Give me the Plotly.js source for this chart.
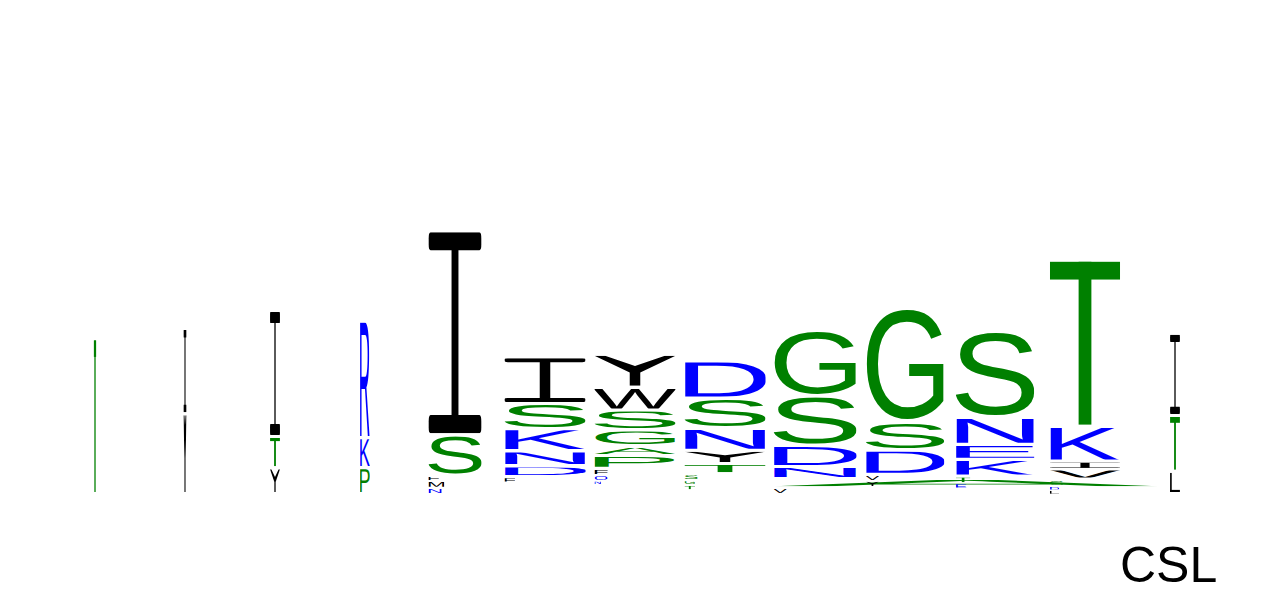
<!DOCTYPE html>
<html>
<head>
<meta charset="utf-8">
<script src="https://cdn.plot.ly/plotly-3.0.1.min.js"></script>
<style>
  html, body { margin: 0; padding: 0; background: #fff; }
  #logo { width: 1267px; height: 600px; }
</style>
</head>
<body>
<div id="logo"></div>
<script>
/***** sequence logo data *****/
var positions = [1, 2, 3, 4, 5, 6, 7, 8, 9, 10, 11, 12, 13];
var colWidths = [0.03, 0.035, 0.11, 0.11, 0.59, 0.9, 0.9, 0.9, 0.92, 0.87, 0.87, 0.78, 0.11];
// unseen part at the bottom of each stack (bits)
var floors = [0, 0, 0, 0, 0, 0.20, 0.17, 0.07, 0, 0.12, 0.10, 0, 0];
// letters listed bottom to top
var stackLetters = [
  ['T'],
  ['Y', 'I'],
  ['Y', 'T', 'I'],
  ['P', 'K', 'R'],
  ['N', 'M', 'F', 'S', 'I'],
  ['F', 'D', 'N', 'K', 'S', 'I'],
  ['N', 'Q', 'F', 'P', 'A', 'G', 'S', 'W', 'Y'],
  ['T', 'G', 'S', 'T', 'Y', 'N', 'S', 'D'],
  ['V', 'A', 'N', 'D', 'S', 'G'],
  ['Y', 'V', 'D', 'S', 'G'],
  ['E', 'T', 'K', 'E', 'N', 'S'],
  ['L', 'D', 'G', 'V', 'I', 'K', 'T'],
  ['L', 'T', 'I']
];
var stackHeights = [
  [2.58],
  [1.33, 1.42],
  [0.43, 0.52, 2.10],
  [0.43, 0.50, 1.95],
  [0.10, 0.12, 0.08, 0.68, 3.40],
  [0.08, 0.18, 0.25, 0.37, 0.42, 0.78],
  [0.05, 0.10, 0.10, 0.22, 0.15, 0.27, 0.33, 0.38, 0.55],
  [0.08, 0.08, 0.10, 0.17, 0.22, 0.37, 0.50, 0.62],
  [0.10, 0.15, 0.20, 0.35, 0.83, 1.10],
  [0.10, 0.10, 0.40, 0.48, 1.90],
  [0.08, 0.11, 0.28, 0.25, 0.45, 1.43],
  [0.07, 0.07, 0.10, 0.17, 0.13, 0.58, 2.77],
  [0.37, 0.93, 1.37]
];
// one flattened glyph in column 9 runs far to the right
var wideGlyph = {column: 9, letter: 'A', width: 4.28};
var caption = 'CSL';

/***** colours and glyph metrics *****/
var green = '#008000', blue = '#0000ff', black = '#000000';
var letterColor = {
  S: green, T: green, G: green, P: green, A: green, C: green,
  K: blue, R: blue, D: blue, N: blue, E: blue, Q: blue, H: blue,
  I: black, V: black, L: black, M: black, F: black, W: black, Y: black
};
// left / right side bearing as share of advance (Arial-like)
var bearings = {
  A: [0, 0], C: [0.068, 0.047], D: [0.107, 0.075], E: [0.118, 0.08], F: [0.137, 0.08],
  G: [0.054, 0.086], K: [0.113, 0.003], M: [0.089, 0.092],
  N: [0.105, 0.106], P: [0.12, 0.065], Q: [0.048, 0.048], R: [0.11, 0.03],
  S: [0.069, 0.07], V: [0.006, 0.008], W: [0.011, 0.012]
};
// plain block letters drawn as outlines in a 100 x 100 box;
// s = stem width (wider for hair-thin columns so they stay visible)
var blockGlyphs = {
  I: function (c, s) {
    return '<rect x="0" y="0" width="100" height="9" rx="4" ry="3" fill="' + c + '"/>' +
      '<rect x="' + (50 - s / 2) + '" y="4" width="' + s + '" height="92" fill="' + c + '"/>' +
      '<rect x="0" y="91" width="100" height="9" rx="4" ry="3" fill="' + c + '"/>';
  },
  T: function (c, s) {
    return '<rect x="0" y="0" width="100" height="11" fill="' + c + '"/>' +
      '<rect x="' + (50 - s * 0.7) + '" y="0" width="' + (s * 1.4) + '" height="100" fill="' + c + '"/>';
  },
  Y: function (c, s) {
    var a = s, m = 50 - s / 2, n = 50 + s / 2;
    return '<polygon points="0,0 ' + a + ',0 50,' + (47 - s) + ' ' + (100 - a) + ',0 100,0 ' +
      n + ',56 ' + n + ',100 ' + m + ',100 ' + m + ',56" fill="' + c + '"/>';
  },
  L: function (c, s) {
    return '<rect x="0" y="0" width="' + (s * 1.3) + '" height="100" fill="' + c + '"/>' +
      '<rect x="0" y="89" width="100" height="11" fill="' + c + '"/>';
  }
};

function svgUri(viewBox, body) {
  return 'data:image/svg+xml;charset=utf-8,' + encodeURIComponent(
    '<svg xmlns="http://www.w3.org/2000/svg" width="100" height="100" viewBox="' + viewBox +
    '" preserveAspectRatio="none">' + body + '</svg>');
}

var glyphCache = {};
function glyph(letter, hair) {
  var key = letter + (hair ? '-hair' : '');
  if (glyphCache[key]) return glyphCache[key];
  var color = letterColor[letter];
  var uri;
  if (blockGlyphs[letter]) {
    uri = svgUri('0 0 100 100', blockGlyphs[letter](color, hair ? 34 : 13));
  } else {
    var b = bearings[letter];
    var round = 'CGOQS'.indexOf(letter) >= 0;
    var top = round ? 70.3 : 68.8;
    var below = letter === 'Q' ? 6 : (round ? 1.5 : 0);
    var len = 100 / (1 - b[0] - b[1]);
    uri = svgUri('0 ' + (-top) + ' 100 ' + (top + below),
      '<g opacity="0.999"><text x="' + (-b[0] * len) + '" y="0" ' +
      'font-family="Liberation Sans, Arial, sans-serif" font-size="100" textLength="' + len +
      '" lengthAdjust="spacingAndGlyphs" fill="' + color + '">' + letter + '</text></g>');
  }
  glyphCache[key] = uri;
  return uri;
}

/***** build the stacks *****/
var images = [];
var totals = [];
positions.forEach(function (pos, c) {
  var y0 = floors[c];
  var w = colWidths[c];
  var left = pos - w / 2;
  stackLetters[c].forEach(function (letter, k) {
    var h = stackHeights[c][k];
    var gap = Math.min(0.05, 0.3 * h);
    var gw = w;
    if (wideGlyph.column === pos && wideGlyph.letter === letter) {
      gw = wideGlyph.width;
    } else if (h < 0.125) {
      gw = Math.min(w, h * 1.467);
    }
    images.push({
      source: glyph(letter, w < 0.05),
      xref: 'x', yref: 'y',
      x: left, y: y0 + h,
      sizex: gw, sizey: h - gap,
      xanchor: 'left', yanchor: 'top',
      sizing: 'stretch',
      layer: 'above'
    });
    y0 += h;
  });
  totals.push(y0);
});

var base = {
  x: positions,
  y: totals,
  type: 'scatter',
  mode: 'markers',
  marker: {opacity: 0},
  hoverinfo: 'skip',
  showlegend: false
};

var layout = {
  width: 1267,
  height: 600,
  margin: {l: 50, r: 47, t: 15, b: 105},
  paper_bgcolor: '#ffffff',
  plot_bgcolor: '#ffffff',
  showlegend: false,
  xaxis: {range: [0.5, 13.5], visible: false, fixedrange: true},
  yaxis: {range: [0, 8], visible: false, fixedrange: true},
  images: images,
  annotations: [{
    text: caption,
    xref: 'paper', yref: 'paper',
    x: 0.9556, y: -0.146,
    xanchor: 'center', yanchor: 'middle',
    showarrow: false,
    font: {family: 'Liberation Sans, Arial, sans-serif', size: 50, color: '#000'}
  }]
};

var config = {staticPlot: true, displayModeBar: false};
Plotly.newPlot('logo', [base], layout, config);
</script>
</body>
</html>
